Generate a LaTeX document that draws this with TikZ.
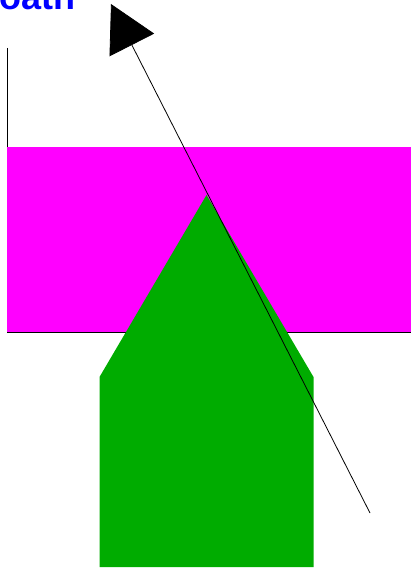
\documentclass[tikz,border=0pt]{standalone}
\usepackage{fontspec}
\setmainfont{Liberation Sans}
\usetikzlibrary{arrows.meta}
\definecolor{mag}{RGB}{255,0,255}
\definecolor{grn}{RGB}{0,172,0}
\definecolor{txtblue}{RGB}{0,0,255}
\begin{document}
\begin{tikzpicture}[x=1pt,y=-1pt,
  ray/.style={black,line width=0.8pt,-{Triangle[length=46pt,width=50pt]}},
  edge/.style={black,line width=1pt}]
\useasboundingbox (0,0) rectangle (411,569);
\fill[mag] (7,147) rectangle (411,332);
\draw[edge] (7,48) -- (7,147);
\draw[edge,line width=0.8pt] (7,332) -- (411,332);
\fill[grn] (206.5,195) -- (313.5,377) -- (313.5,567) -- (99.5,567) -- (99.5,377) -- cycle;
\coordinate (rstart) at (370,513);
\coordinate (rend) at (111,4);
\draw[ray] (rstart) -- (rend);
\node[anchor=base west,inner sep=0pt,text=txtblue,font=\fontsize{36}{40}\selectfont\bfseries] (title) at (-1,10) {oath};
\end{tikzpicture}
\end{document}
